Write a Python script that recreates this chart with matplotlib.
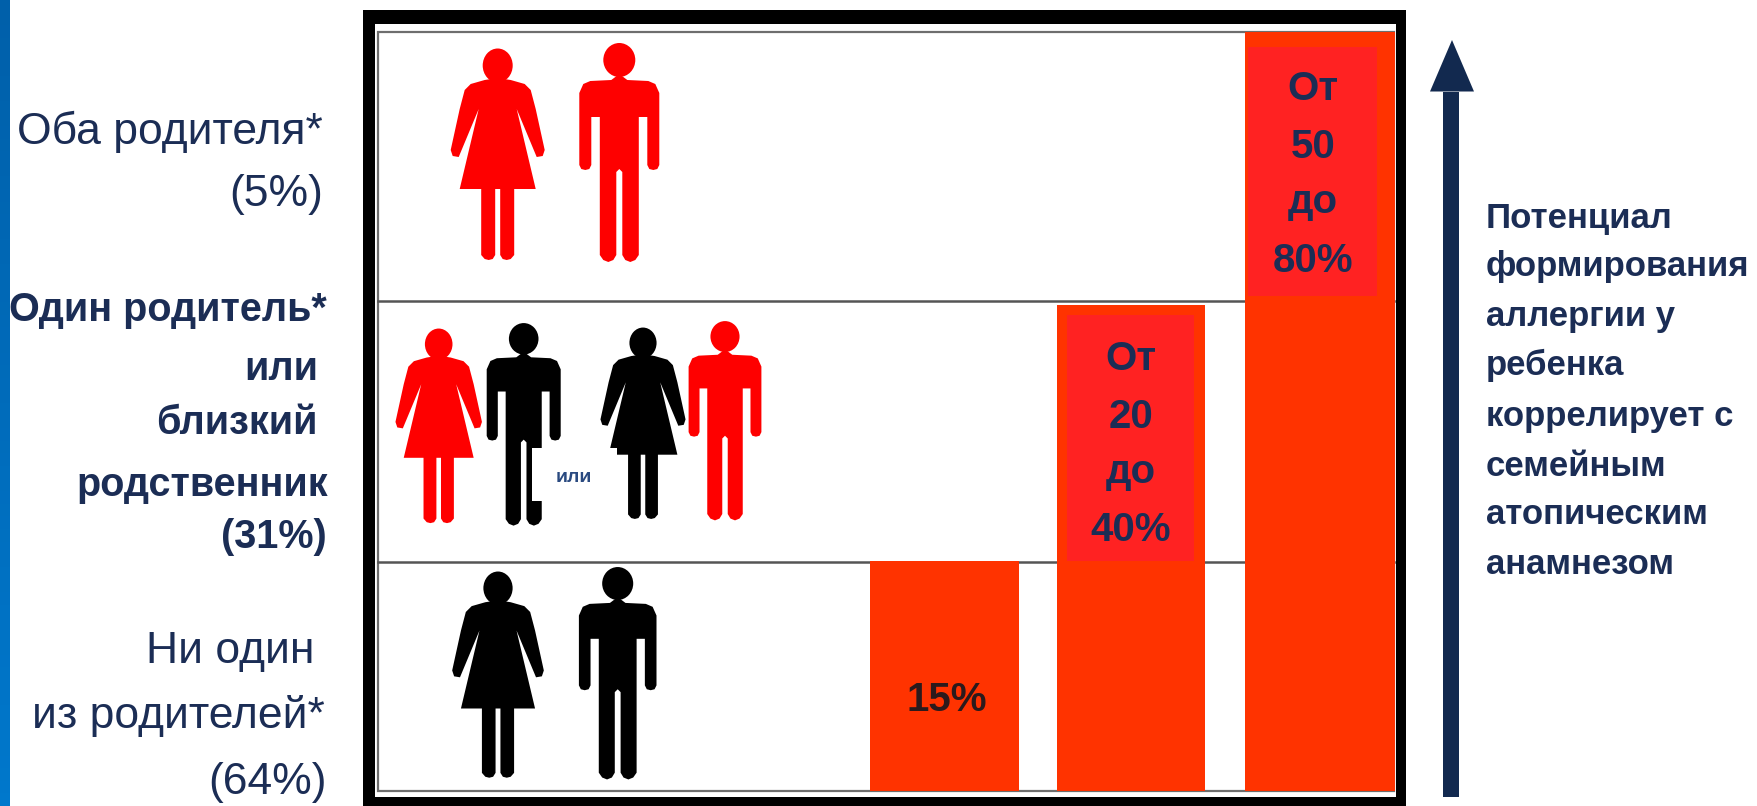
import numpy as np
import matplotlib.pyplot as plt
from matplotlib.colors import LinearSegmentedColormap
from matplotlib.patches import Rectangle, Polygon, Ellipse

W, H = 1758, 806
NAVY = '#1b2d55'

# bar edges and tops in px of the picture
bar_left = [870, 1057, 1245.5]
bar_right = [1019, 1205.5, 1395]
bar_tops = [561, 305, 32]
bar_floor = 791
row_lines = [301, 562]

bar_labels = [['15%'], ['От', '20', 'до', '40%'], ['От', '50', 'до', '80%']]
bar_label_x = [947, 1131, 1313]
bar_label_y = [[711], [370, 428, 483, 541], [100, 158, 213, 272]]
bar_label_colors = ['#2b1a1c', NAVY, NAVY]

left_labels = ['Оба родителя*', '(5%)', 'Один родитель*', 'или', 'близкий', 'родственник', '(31%)',
               'Ни один', 'из родителей*', '(64%)']
left_right = [323, 323, 327, 318, 318, 328, 327, 315, 325, 327]
left_base = [144, 206, 321, 380, 434, 496, 548, 663, 728, 794]
left_bold = [False, False, True, True, True, True, True, False, False, False]

right_labels = ['Потенциал', 'формирования', 'аллергии у', 'ребенка', 'коррелирует с', 'семейным',
                'атопическим', 'анамнезом']
right_base = [228, 276, 326, 375, 426, 476, 524, 574]

# center x, top y, scale, color
women = [(497.7, 49, 1.0, '#fe0000'), (438.7, 329, 0.92, '#fe0000'),
         (643, 328, 0.905, 'black'), (498, 572, 0.975, 'black')]
men = [(619.3, 44, 1.0, '#fe0000'), (523.7, 324, 0.925, 'black'),
       (725, 322, 0.91, '#fe0000'), (617.7, 568, 0.97, 'black')]

# right half of the figures, mirrored when drawn
woman_half = [(0, 29), (13, 31), (27, 35), (33, 41), (38, 60), (47, 101), (45, 107), (39, 108), (19, 60),
              (38, 140), (16.5, 140), (16.5, 206), (13, 210), (9, 211), (5, 210), (2.5, 206), (2.5, 140), (0, 140)]
man_half = [(0, 30), (8, 36), (29, 37), (36, 40), (40, 49), (40, 121), (38, 125), (34, 126), (30, 125), (28, 121),
            (28, 73), (19.5, 73), (19.5, 211), (16, 216), (11, 218), (6, 216), (3, 211), (3, 128), (0, 125)]


def fy(y):
    return H - y


def draw_person(ax, half, cx, top, scale, color, rx, ry, head_y):
    pts = np.array(half, dtype=float)
    mirrored = pts[::-1] * [-1, 1]
    outline = np.vstack([pts, mirrored])
    xs = cx + outline[:, 0] * scale
    ys = fy(top + outline[:, 1] * scale)
    ax.add_patch(Polygon(np.column_stack([xs, ys]), closed=True, fc=color, ec='none', zorder=4))
    ax.add_patch(Ellipse((cx, fy(top + head_y * scale)), rx * 2 * scale, ry * 2 * scale, fc=color, ec='none', zorder=4))


fig = plt.figure(figsize=(W / 100, H / 100), dpi=100)
ax = fig.add_axes([0, 0, 1, 1])

# blue strip on the left
strip = np.linspace(0, 1, 64).reshape(-1, 1)
ax.imshow(strip, extent=[0, 10, 0, H], aspect='auto', origin='lower', zorder=1,
          cmap=LinearSegmentedColormap.from_list('strip', ['#0078cc', '#0060aa']))

# frame
ax.add_patch(Rectangle((363, 0), 1406 - 363, fy(10), fc='black', ec='none', zorder=1))
ax.add_patch(Rectangle((375, fy(797)), 1396 - 375, 797 - 24, fc='white', ec='none', zorder=1))
ax.add_patch(Rectangle((378, fy(791)), 1394 - 378, 791 - 32, fc='white', ec='#6e6e6e', lw=1.6, zorder=2))
for y in row_lines:
    ax.plot([378, 1394], [fy(y), fy(y)], color='#555555', lw=1.8, zorder=2)

# bars
left = np.array(bar_left)
width = np.array(bar_right) - left
heights = bar_floor - np.array(bar_tops)
ax.bar(left, heights, width=width, bottom=fy(bar_floor), align='edge', color='#ff3300', zorder=3)
ax.add_patch(Rectangle((1067, fy(561)), 1194.5 - 1067, 561 - 315, fc='#ff2222', ec='none', zorder=3))
ax.add_patch(Rectangle((1248, fy(296)), 1377 - 1248, 296 - 47, fc='#ff2222', ec='none', zorder=3))

for lines, x, ys, col in zip(bar_labels, bar_label_x, bar_label_y, bar_label_colors):
    for s, y in zip(lines, ys):
        ax.text(x, fy(y), s, ha='center', va='baseline', fontsize=29, fontweight='bold',
                family='Liberation Sans', color=col, zorder=5)

# people
for cx, top, scale, color in women:
    draw_person(ax, woman_half, cx, top, scale, color, 15, 17, 16.5)
for cx, top, scale, color in men:
    draw_person(ax, man_half, cx, top, scale, color, 16, 17, 16)

# white patch with the word between the two couples
ax.add_patch(Rectangle((532, fy(501)), 85, 53, fc='white', ec='none', zorder=5))
ax.text(574, fy(482), 'или', ha='center', va='baseline', fontsize=14, fontweight='bold',
        family='Liberation Sans', color='#2a4a80', zorder=6)

# row labels
for s, x, y, bold in zip(left_labels, left_right, left_base, left_bold):
    ax.text(x, fy(y), s, ha='right', va='baseline', fontsize=28.5 if bold else 32,
            fontweight='bold' if bold else 'normal', family='Liberation Sans', color=NAVY, zorder=5)

# arrow
ax.add_patch(Rectangle((1443.5, 9), 15.5, fy(91.5) - 9, fc='#12294f', ec='none', zorder=3))
ax.add_patch(Polygon([(1430, fy(91.5)), (1474, fy(91.5)), (1452, fy(40))], closed=True, fc='#12294f', ec='none', zorder=3))

for s, y in zip(right_labels, right_base):
    ax.text(1486, fy(y), s, ha='left', va='baseline', fontsize=25, fontweight='bold',
            family='Liberation Sans', color=NAVY, zorder=5)

ax.set_xlim(0, W)
ax.set_ylim(0, H)
ax.axis('off')
fig.savefig('out.png', dpi=100, facecolor='white')
